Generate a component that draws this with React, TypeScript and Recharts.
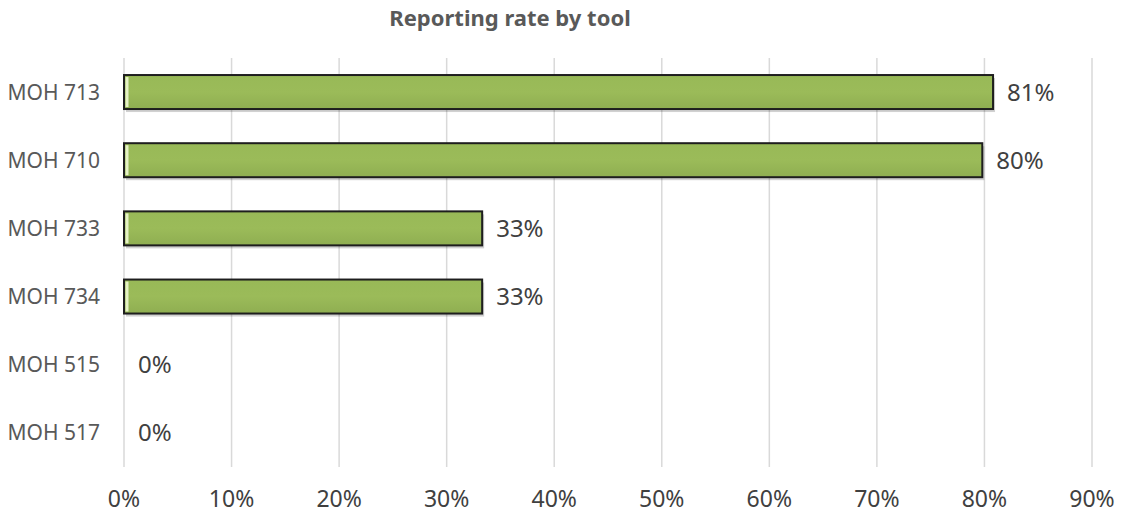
import React from 'react';
import { BarChart, Bar, XAxis, YAxis, CartesianGrid, LabelList } from 'recharts';

// reporting rate per tool, in percent
const tools = ['MOH 713', 'MOH 710', 'MOH 733', 'MOH 734', 'MOH 515', 'MOH 517'];
const rates = [80.8, 79.8, 33.3, 33.3, 0, 0];
const xTicks = [0, 10, 20, 30, 40, 50, 60, 70, 80, 90];

const data = tools.map((name, i) => ({ name, rate: rates[i] }));

const FONT = '"Noto Sans", "Open Sans", sans-serif';

// bar with a thin light edge on the left and a soft drop shadow
const BevelBar = (props: any) => {
  const { x, y, width, height } = props;
  if (!width || width <= 0) return null;
  return (
    <g>
      <rect x={x + 2} y={y + 3} width={width} height={height} fill="#000" opacity={0.18} />
      <rect x={x} y={y} width={width} height={height} fill="url(#barFill)" stroke="#1e1e1e" strokeWidth={2} />
      <rect x={x + 1.5} y={y + 2} width={3} height={height - 4} fill="#e6f2c6" />
    </g>
  );
};

export default function App() {
  return (
    <div style={{ position: 'absolute', left: 0, top: 0, width: 1123, height: 516, background: '#fff', fontFamily: FONT }}>
      <div
        style={{
          position: 'absolute',
          left: 0,
          width: 1020,
          top: 2,
          textAlign: 'center',
          fontSize: 22,
          fontWeight: 700,
          color: '#595959',
        }}
      >
        Reporting rate by tool
      </div>
      <BarChart
        width={1123}
        height={516}
        data={data}
        layout="vertical"
        margin={{ top: 58, right: 31, bottom: 0, left: 0 }}
        barCategoryGap="25%"
      >
        <defs>
          <linearGradient id="barFill" x1="0" y1="0" x2="0" y2="1">
            <stop offset="0%" stopColor="#98b957" />
            <stop offset="50%" stopColor="#9bbb59" />
            <stop offset="100%" stopColor="#8fae51" />
          </linearGradient>
        </defs>
        <CartesianGrid horizontal={false} stroke="#d9d9d9" strokeWidth={1.5} />
        <XAxis
          type="number"
          domain={[0, 90]}
          ticks={xTicks}
          tickFormatter={(v: number) => `${v}%`}
          axisLine={false}
          tickLine={false}
          height={49}
          tickMargin={18}
          tick={{ fontSize: 23, fill: '#404040', fontFamily: FONT }}
        />
        <YAxis
          type="category"
          dataKey="name"
          width={124}
          axisLine={false}
          tickLine={false}
          tickMargin={18}
          tick={{ fontSize: 21, fill: '#595959', fontFamily: FONT }}
        />
        <Bar dataKey="rate" shape={<BevelBar />} isAnimationActive={false}>
          <LabelList
            dataKey="rate"
            position="right"
            offset={14}
            formatter={(v: number) => `${Math.round(v)}%`}
            style={{ fontSize: 24, fill: '#404040', fontFamily: FONT }}
          />
        </Bar>
      </BarChart>
    </div>
  );
}
